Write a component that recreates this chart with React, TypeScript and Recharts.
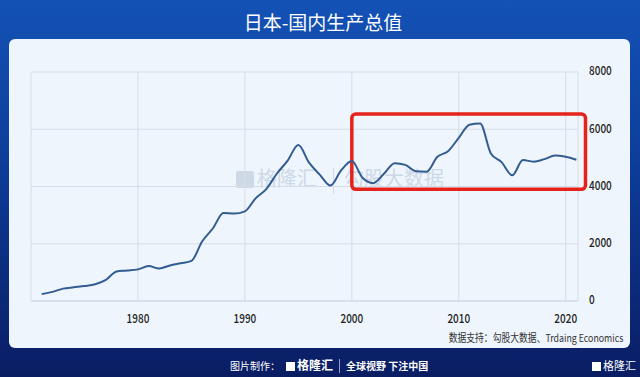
import React from 'react';
import { LineChart, Line, XAxis, YAxis, CartesianGrid, ReferenceArea } from 'recharts';

const years = [
    1971, 1972, 1973, 1974, 1975, 1976, 1977, 1978, 1979, 1980,
    1981, 1982, 1983, 1984, 1985, 1986, 1987, 1988, 1989, 1990,
    1991, 1992, 1993, 1994, 1995, 1996, 1997, 1998, 1999, 2000,
    2001, 2002, 2003, 2004, 2005, 2006, 2007, 2008, 2009, 2010,
    2011, 2012, 2013, 2014, 2015, 2016, 2017, 2018, 2019, 2020, 2021,
];
// 单位：十亿美元
const gdp = [
    240, 318, 432, 479, 522, 585, 737, 1032, 1064, 1105,
    1219, 1134, 1243, 1318, 1399, 2079, 2532, 3072, 3054, 3133,
    3584, 3909, 4454, 4907, 5449, 4834, 4415, 4032, 4562, 4888,
    4304, 4115, 4445, 4815, 4755, 4530, 4515, 5038, 5231, 5700,
    6157, 6203, 5156, 4850, 4389, 4923, 4867, 4955, 5082, 5040, 4937,
];
const xTicks = [1980, 1990, 2000, 2010, 2020];
const yTicks = [0, 2000, 4000, 6000, 8000];

const data = years.map((year, i) => ({ year, value: gdp[i] }));

const cjk = '"Noto Sans CJK SC", "Noto Sans", sans-serif';

// 窄字体效果：横向压缩
const XTick = (props: any) => {
    const { x, y, payload } = props;
    return (
        <g transform={`translate(${x},${y + 11}) scale(0.8,1)`}>
            <text textAnchor="middle" dominantBaseline="middle" fontSize={12.5} fontWeight={500} fill="#1f1f1f" fontFamily={cjk}>
                {payload.value}
            </text>
        </g>
    );
};

const YTick = (props: any) => {
    const { x, y, payload } = props;
    return (
        <g transform={`translate(${x},${y}) scale(0.8,1)`}>
            <text textAnchor="start" dominantBaseline="middle" fontSize={12.5} fontWeight={500} fill="#1f1f1f" fontFamily={cjk}>
                {payload.value}
            </text>
        </g>
    );
};

const RoundBox = (props: any) => (
    <rect
        x={props.x}
        y={props.y}
        width={props.width}
        height={props.height}
        rx={4}
        fill="none"
        stroke="#e5231b"
        strokeWidth={3.5}
    />
);

export default function App() {
    return (
        <div
            style={{
                position: 'absolute',
                left: 0,
                top: 0,
                width: 640,
                height: 377,
                overflow: 'hidden',
                background: 'linear-gradient(180deg, #1452b6 0%, #0d3c98 45%, #0a1d63 100%)',
                fontFamily: cjk,
            }}
        >
            <div
                style={{
                    position: 'absolute',
                    top: 8,
                    left: 0,
                    width: 646,
                    textAlign: 'center',
                    color: '#fff',
                    fontSize: 19,
                    lineHeight: '28px',
                }}
            >
                日本-国内生产总值
            </div>
            <div
                style={{
                    position: 'absolute',
                    left: 9,
                    top: 39,
                    width: 621,
                    height: 309,
                    borderRadius: 6,
                    background: '#eef5fc',
                }}
            />
            {/* 水印 */}
            <div
                style={{
                    position: 'absolute',
                    left: 236,
                    top: 166,
                    color: '#cdd9e7',
                    fontSize: 20,
                    lineHeight: '24px',
                    whiteSpace: 'nowrap',
                }}
            >
                <span style={{ display: 'inline-block', width: 18, height: 17, background: '#cdd9e7', borderRadius: 2, marginRight: 3, verticalAlign: -2 }} />
                格隆汇
                <span style={{ display: 'inline-block', width: 1, height: 26, background: '#d2dbe6', margin: '0 10px 0 16px', verticalAlign: -8 }} />
                勾股大数据
            </div>
            <div style={{ position: 'absolute', left: 0, top: 0 }}>
                <LineChart
                    width={640}
                    height={377}
                    data={data}
                    margin={{ top: 72, right: 0, left: 31, bottom: 46 }}
                >
                    <CartesianGrid stroke="#d6dde6" strokeWidth={1} />
                    <XAxis
                        dataKey="year"
                        type="number"
                        domain={[1970, 2021.15]}
                        ticks={xTicks}
                        height={30}
                        axisLine={{ stroke: '#d0d7e0' }}
                        tickLine={false}
                        tick={<XTick />}
                    />
                    <YAxis
                        orientation="right"
                        domain={[0, 8000]}
                        ticks={yTicks}
                        width={62}
                        axisLine={false}
                        tickLine={false}
                        tick={(p: any) => <YTick {...p} x={589} />}
                    />
                    <ReferenceArea
                        x1={2000}
                        x2={2021.85}
                        y1={3900}
                        y2={6530}
                        ifOverflow="visible"
                        shape={RoundBox}
                    />
                    <Line
                        type="monotone"
                        dataKey="value"
                        stroke="#335d90"
                        strokeWidth={2}
                        dot={false}
                        isAnimationActive={false}
                    />
                </LineChart>
            </div>
            <div
                style={{
                    position: 'absolute',
                    right: 17,
                    top: 329,
                    fontSize: 11,
                    lineHeight: '16px',
                    color: '#333',
                    whiteSpace: 'nowrap',
                    transform: 'scaleX(0.8)',
                    transformOrigin: 'right center',
                }}
            >
                数据支持：勾股大数据、Trdaing Economics
            </div>
            <div
                style={{
                    position: 'absolute',
                    left: 230,
                    top: 357,
                    fontSize: 10,
                    lineHeight: '16px',
                    color: '#fff',
                    whiteSpace: 'nowrap',
                    fontWeight: 700,
                }}
            >
                <span style={{ fontWeight: 400 }}>图片制作：</span>
                <span style={{ display: 'inline-block', width: 9, height: 9, background: '#fff', marginLeft: 6, marginRight: 2, verticalAlign: -1 }} />
                <span style={{ fontSize: 12 }}>格隆汇</span>
                <span style={{ display: 'inline-block', width: 1, height: 14, background: '#8fa0c8', margin: '0 6px', verticalAlign: -3 }} />
                全球视野 下注中国
            </div>
            <div
                style={{
                    position: 'absolute',
                    left: 592,
                    top: 357,
                    fontSize: 11,
                    lineHeight: '16px',
                    color: '#fff',
                    whiteSpace: 'nowrap',
                }}
            >
                <span style={{ display: 'inline-block', width: 9, height: 9, background: '#fff', marginRight: 2, verticalAlign: -1 }} />
                格隆汇
            </div>
        </div>
    );
}
